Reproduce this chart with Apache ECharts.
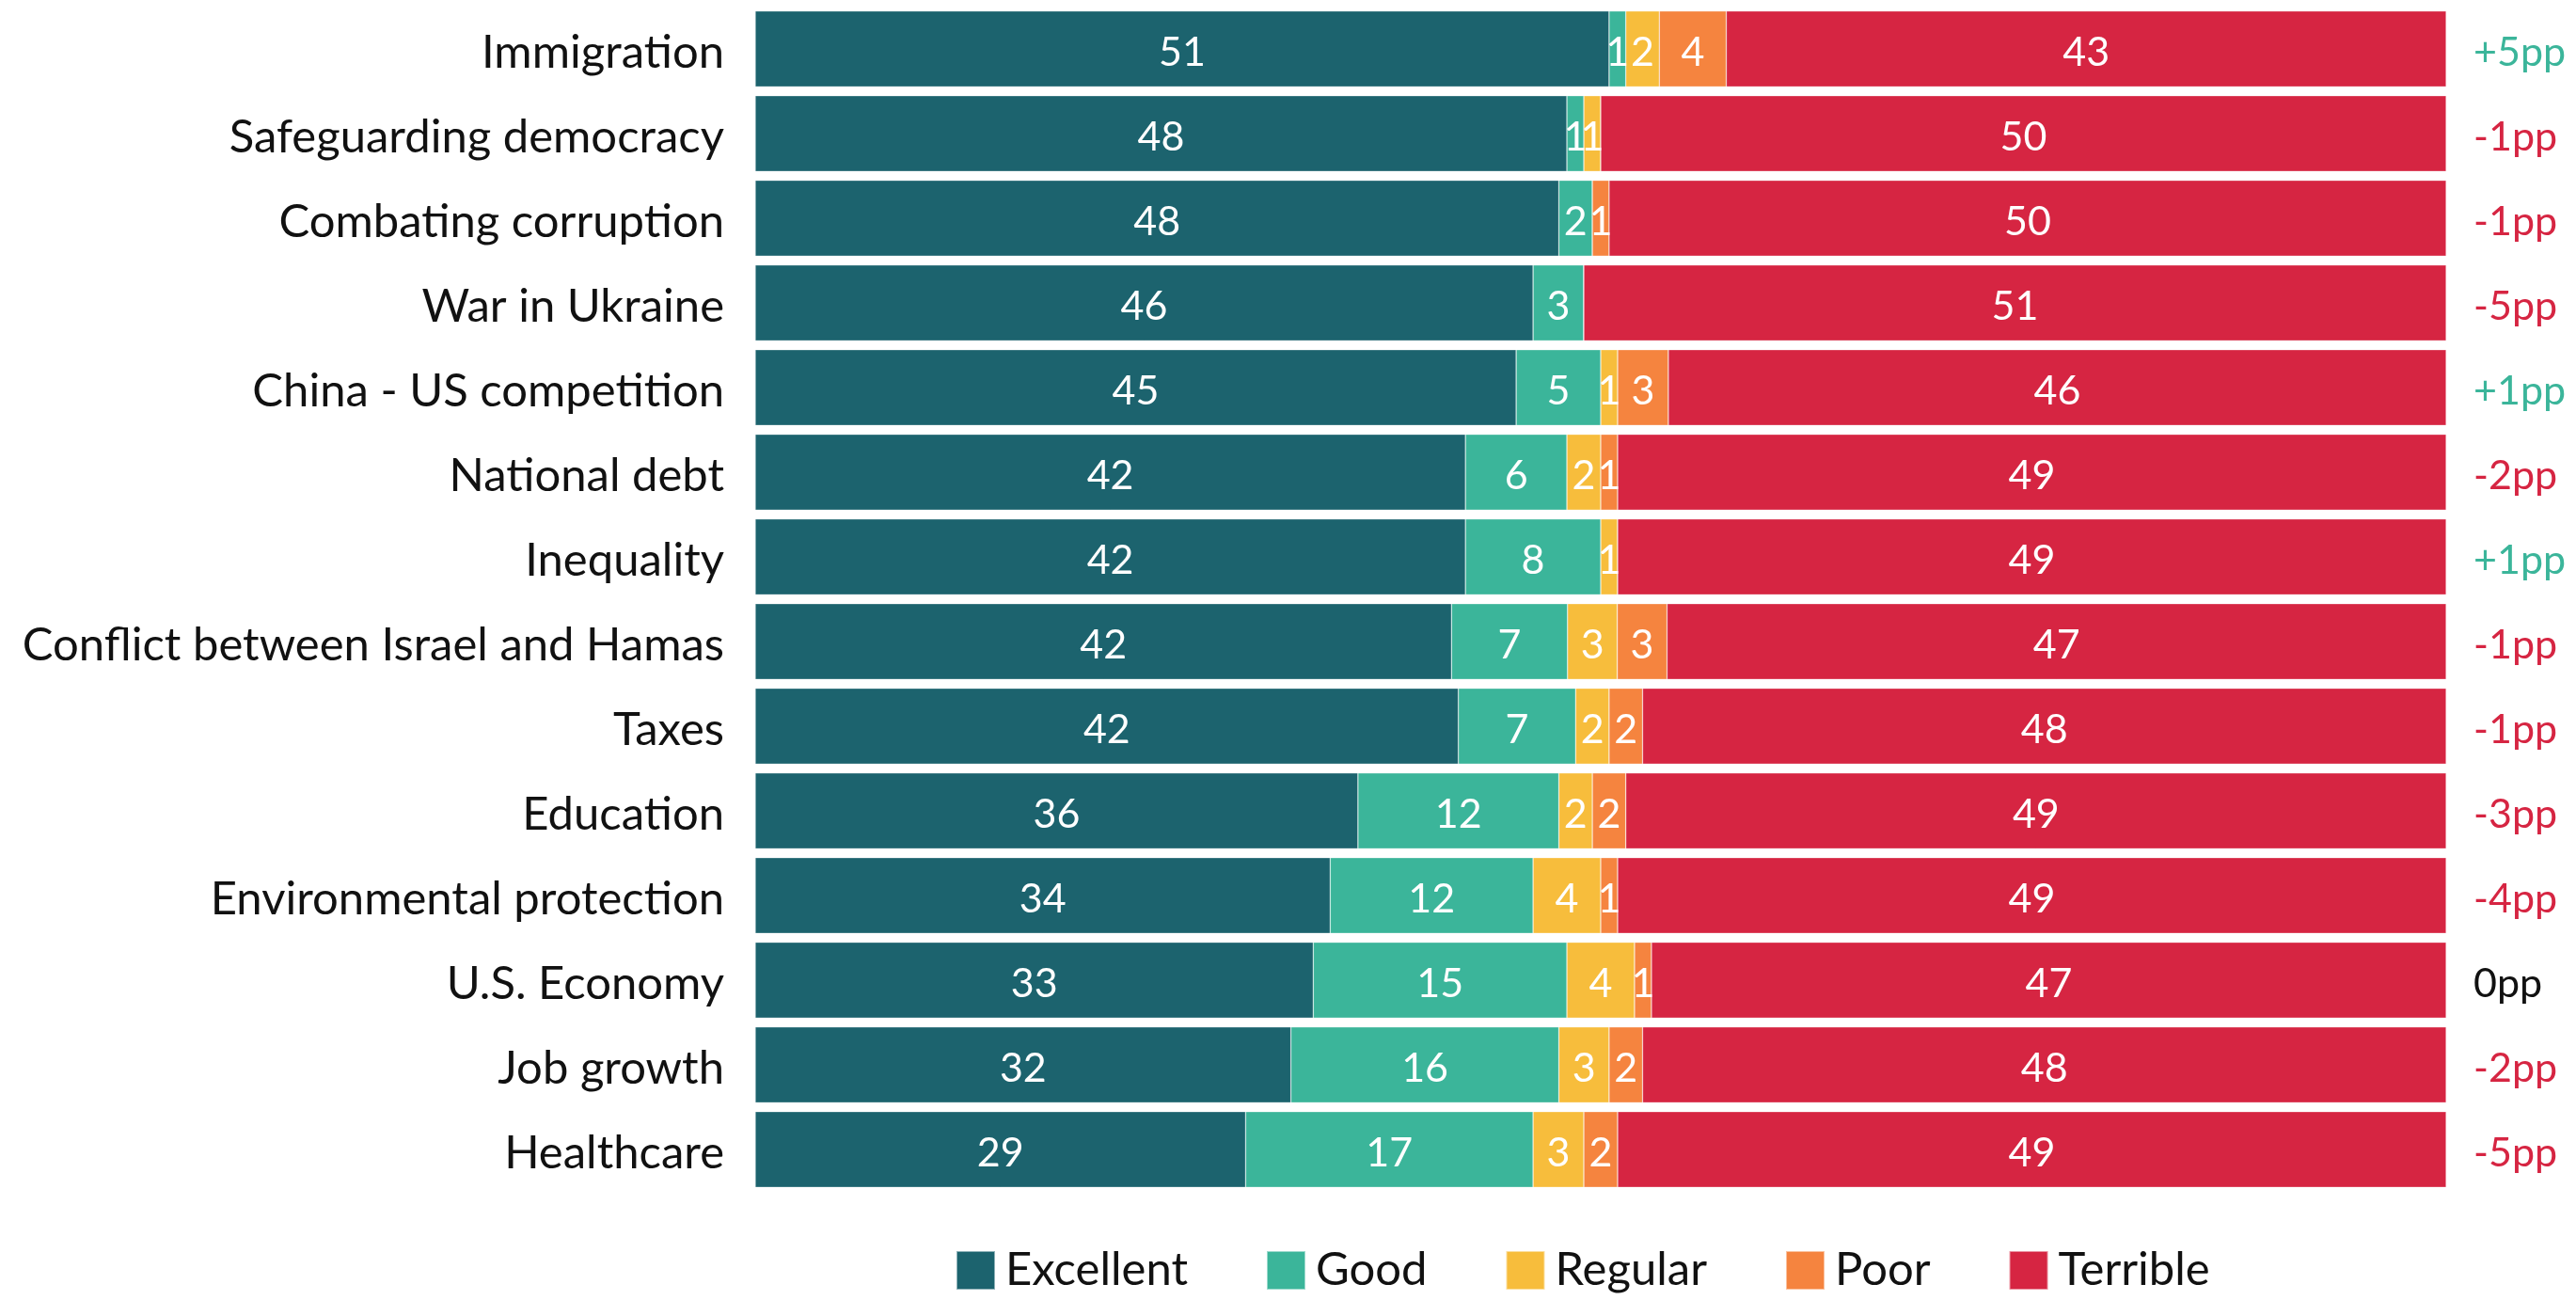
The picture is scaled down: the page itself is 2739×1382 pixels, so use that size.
<!DOCTYPE html>
<html>
<head>
<meta charset="utf-8">
<style>
  html, body { margin: 0; padding: 0; background: #ffffff; }
  #chart { width: 2739px; height: 1382px; }
</style>
<script src="https://cdn.jsdelivr.net/npm/echarts@6/dist/echarts.min.js"></script>
</head>
<body>
<div id="chart"></div>
<script>
const categories = ["Immigration", "Safeguarding democracy", "Combating corruption", "War in Ukraine",
  "China - US competition", "National debt", "Inequality", "Conflict between Israel and Hamas",
  "Taxes", "Education", "Environmental protection", "U.S. Economy", "Job growth", "Healthcare"];
const excellent = [51, 48, 48, 46, 45, 42, 42, 42, 42, 36, 34, 33, 32, 29];
const good      = [1, 1, 2, 3, 5, 6, 8, 7, 7, 12, 12, 15, 16, 17];
const regular   = [2, 1, 0, 0, 1, 2, 1, 3, 2, 2, 4, 4, 3, 3];
const poor      = [4, 0, 1, 0, 3, 1, 0, 3, 2, 2, 1, 1, 2, 2];
const terrible  = [43, 50, 50, 51, 46, 49, 49, 47, 48, 49, 49, 47, 48, 49];
const changes   = [5, -1, -1, -5, 1, -2, 1, -1, -1, -3, -4, 0, -2, -5];
const seriesNames = ["Excellent", "Good", "Regular", "Poor", "Terrible"];
const colors = ["#1c636e", "#3bb59a", "#f7bd3c", "#f5843f", "#d62542"];

const raw = [excellent, good, regular, poor, terrible];
const totals = categories.map((c, i) => raw.reduce((s, arr) => s + arr[i], 0));
const changeLabels = changes.map(v => (v > 0 ? "+" : "") + v + "pp");

const FONT = "Lato";
const chart = echarts.init(document.getElementById("chart"), null, { renderer: "canvas" });

const series = raw.map((arr, k) => ({
  name: seriesNames[k],
  type: "bar",
  stack: "total",
  barCategoryGap: "10.5%",
  itemStyle: { color: colors[k], borderColor: "rgba(255,255,255,0.5)", borderWidth: 0.6 },
  label: {
    show: true,
    position: "inside",
    offset: [0, 4],
    color: "#ffffff",
    fontFamily: FONT,
    fontSize: 43,
    formatter: p => (arr[p.dataIndex] > 0 ? String(arr[p.dataIndex]) : "")
  },
  emphasis: { disabled: true },
  data: arr.map((v, i) => v / totals[i] * 100)
}));

chart.setOption({
  animation: false,
  backgroundColor: "#ffffff",
  grid: { left: 803, right: 138, top: 7, bottom: 115, containLabel: false },
  legend: {
    data: seriesNames,
    left: 1011,
    top: 1321,
    itemWidth: 41,
    itemHeight: 41,
    itemGap: 83,
    icon: "rect",
    textStyle: { fontFamily: FONT, fontSize: 49, color: "#111111", padding: [0, 0, 0, 6] }
  },
  xAxis: {
    type: "value",
    min: 0,
    max: 100,
    show: false
  },
  yAxis: [
    {
      type: "category",
      data: categories,
      inverse: true,
      axisLine: { show: false },
      axisTick: { show: false },
      axisLabel: {
        fontFamily: FONT,
        fontSize: 49,
        color: "#111111",
        margin: 33,
        padding: [8, 0, 0, 0],
        formatter: val => "{c|" + val + "}",
        rich: { c: { color: "#111111", fontFamily: FONT, fontSize: 49 } }
      }
    },
    {
      type: "category",
      data: changeLabels,
      inverse: true,
      position: "right",
      axisLine: { show: false },
      axisTick: { show: false },
      axisLabel: {
        fontFamily: FONT,
        fontSize: 43,
        margin: 29,
        padding: [8, 0, 0, 0],
        formatter: (val, idx) => {
          const c = changes[idx];
          const key = c > 0 ? "pos" : (c < 0 ? "neg" : "zero");
          return "{" + key + "|" + val + "}";
        },
        rich: {
          pos: { color: "#3bb59a", fontFamily: FONT, fontSize: 43 },
          neg: { color: "#d62542", fontFamily: FONT, fontSize: 43 },
          zero: { color: "#111111", fontFamily: FONT, fontSize: 43 }
        }
      }
    }
  ],
  series: series
});
</script>
</body>
</html>
